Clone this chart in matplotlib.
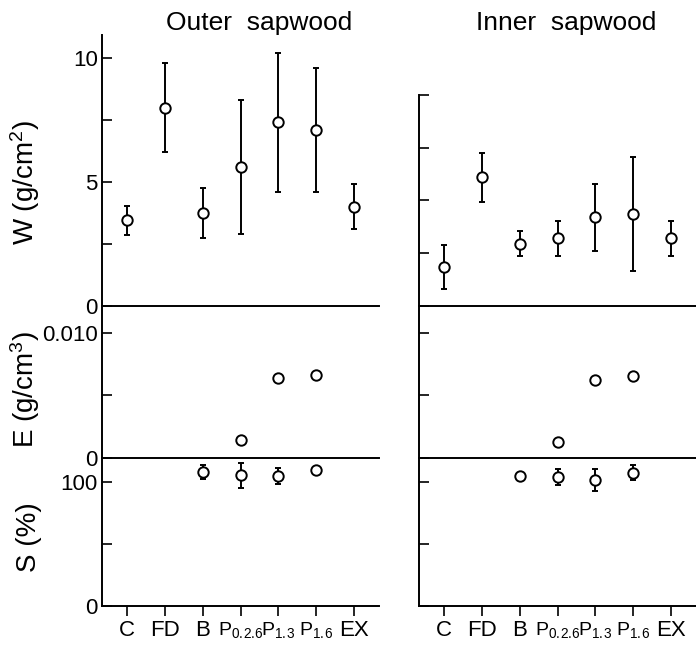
import numpy as np
import matplotlib
matplotlib.use('Agg')
import matplotlib.pyplot as plt

plt.rcParams['font.family'] = ['Liberation Sans', 'DejaVu Sans']
plt.rcParams['mathtext.fontset'] = 'custom'
plt.rcParams['mathtext.rm'] = 'Liberation Sans'
plt.rcParams['font.size'] = 16

groups = ['C', 'FD', 'B', r'$\mathregular{P_{0.\!2.\!6}}$', r'$\mathregular{P_{1.\!3}}$',
		  r'$\mathregular{P_{1.\!6}}$', 'EX']

# W (g/cm2), mean and error bar half width
outer_w = [3.45, 8.0, 3.75, 5.6, 7.4, 7.1, 4.0]
outer_w_err = [0.6, 1.8, 1.0, 2.7, 2.8, 2.5, 0.9]
inner_w = [1.85, 6.1, 2.95, 3.2, 4.2, 4.35, 3.2]
inner_w_err = [1.05, 1.15, 0.6, 0.85, 1.6, 2.7, 0.85]

# E (g/cm3), only the P treatments
e_groups = [3, 4, 5]
outer_e = [0.0014, 0.0064, 0.0066]
inner_e = [0.0013, 0.0062, 0.0065]

# S (%)
s_groups = [2, 3, 4, 5]
outer_s = [108, 105.5, 105, 109.5]
outer_s_err = [5.5, 10, 6.7, 0]
inner_s = [105, 104, 101.5, 107.5]
inner_s_err = [0, 6.7, 8.7, 6.2]

fig = plt.figure(figsize=(6.96, 6.52), dpi=100)

def style(ax, ticks, labels, ylim, show_labels):
	ax.patch.set_visible(False)
	for s in ['top', 'right']:
		ax.spines[s].set_visible(False)
	for s in ['left', 'bottom']:
		ax.spines[s].set_linewidth(1.4)
	ax.set_xlim(0.35, 7.65)
	ax.set_ylim(*ylim)
	ax.set_yticks(ticks)
	ax.set_yticklabels(labels if show_labels else [''] * len(ticks))
	ax.tick_params(axis='y', direction='in', length=7, width=1.2, pad=3, labelsize=16)

def draw_column(x0, w_top, w, w_err, e, s, s_err, show_labels):
	w_h = (306 - w_top) / 652
	ax_w = fig.add_axes([x0, 0.5307, 0.398, w_h])
	ax_e = fig.add_axes([x0, 0.2975, 0.398, 0.2331])
	ax_s = fig.add_axes([x0, 0.0706, 0.398, 0.227])

	mk = dict(fmt='o', ms=7.5, mfc='white', mec='black', mew=1.4, ecolor='black',
			  elinewidth=1.4, capsize=2.5, capthick=1.4, color='black')

	x = np.arange(1, len(groups) + 1)
	ax_w.errorbar(x, w, yerr=w_err, **mk)
	style(ax_w, [0, 2.5, 5, 7.5, 10], ['0', '', '5', '', '10'],
		  (0, (306 - w_top) / 24.8), show_labels)
	ax_w.set_xticks([])

	ax_e.plot(x[e_groups], e, 'o', ms=7.5, mfc='white', mec='black', mew=1.4)
	style(ax_e, [0, 0.005, 0.010], ['0', '', '0.010'], (0, 0.01211), show_labels)
	ax_e.set_xticks([])

	ax_s.errorbar(x[s_groups], s, yerr=s_err, **mk)
	style(ax_s, [0, 50, 100], ['0', '', '100'], (0, 119.4), show_labels)
	ax_s.set_xticks(x)
	ax_s.set_xticklabels(groups, fontsize=16)
	# the P labels with subscripts are shrunk a little so they don't run together
	for lab in ax_s.get_xticklabels():
		if 'P' in lab.get_text():
			lab.set_fontsize(14)
	ax_s.tick_params(axis='x', direction='out', length=7, width=1.2, pad=3)

	if show_labels:
		ax_w.set_ylabel(r'W (g/cm$\mathregular{^2}$)', fontsize=20)
		ax_w.yaxis.set_label_coords(-0.215, 0.456)
		ax_e.set_ylabel(r'E (g/cm$\mathregular{^3}$)', fontsize=20)
		ax_e.yaxis.set_label_coords(-0.215, 0.45)
		ax_s.set_ylabel('S (%)', fontsize=20)
		ax_s.yaxis.set_label_coords(-0.215, 0.466)

draw_column(102 / 696, 35, outer_w, outer_w_err, outer_e, outer_s, outer_s_err, True)
draw_column(419 / 696, 95, inner_w, inner_w_err, inner_e, inner_s, inner_s_err, False)

fig.text(259 / 696, 0.965, 'Outer  sapwood', ha='center', va='center', fontsize=19)
fig.text(566 / 696, 0.965, 'Inner  sapwood', ha='center', va='center', fontsize=19)

plt.savefig('out.png', dpi=100)
